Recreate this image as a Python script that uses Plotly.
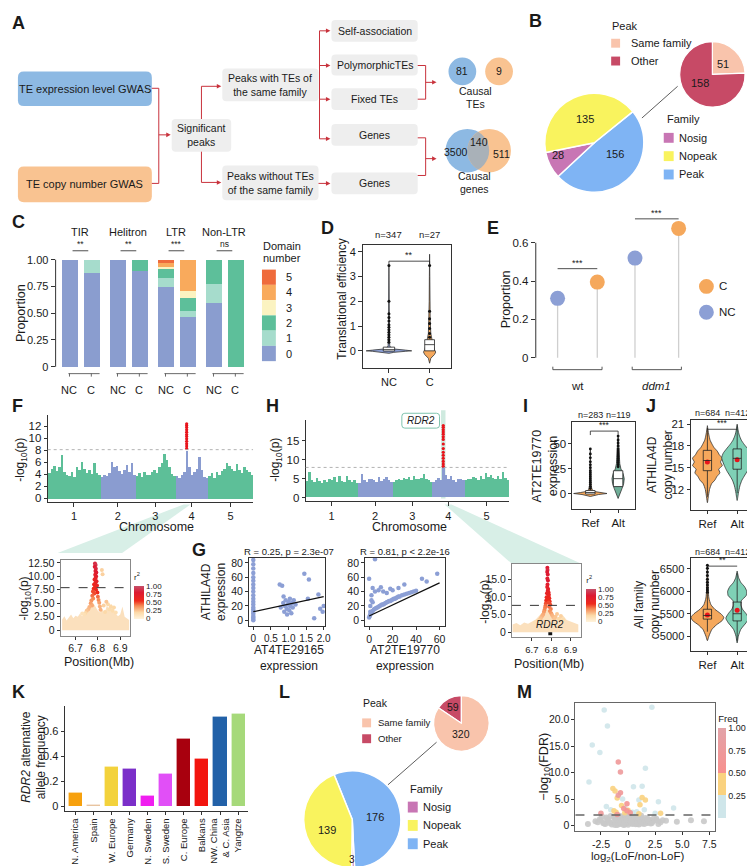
import math
import plotly.graph_objects as go

W, H = 755, 866
FONT = "Liberation Sans, Arial, Helvetica, sans-serif"
INK = "#1a1a1a"
RED = "#c8323c"

# ======================= DATA =======================
# A  (Venn counts)
te_venn = [81, 9]
gene_venn = [3500, 140, 511]

# B
b_family_labels = ["Peak", "Nosig", "Nopeak"]
b_family_values = [156, 28, 135]
b_peak_labels = ["Same family", "Other"]
b_peak_values = [51, 158]

# C
c_groups = ["TIR", "Helitron", "LTR", "Non-LTR"]
c_sig = ["**", "**", "***", "ns"]
c_bars = ["NC", "C", "NC", "C", "NC", "C", "NC", "C"]
c_levels = ["0", "1", "2", "3", "4", "5"]
c_prop = [
    [1.00, 0.88, 1.00, 0.90, 0.75, 0.47, 0.60, 0.00],
    [0.00, 0.12, 0.00, 0.00, 0.08, 0.06, 0.18, 0.00],
    [0.00, 0.00, 0.00, 0.10, 0.09, 0.12, 0.22, 1.00],
    [0.00, 0.00, 0.00, 0.00, 0.02, 0.06, 0.00, 0.00],
    [0.00, 0.00, 0.00, 0.00, 0.035, 0.29, 0.00, 0.00],
    [0.00, 0.00, 0.00, 0.00, 0.025, 0.00, 0.00, 0.00],
]

# D
d_groups = ["NC", "C"]
d_n = [347, 27]
d_nc_y = [-0.10, -0.06, -0.02, 0.00, 0.03, 0.07, 0.12, 0.20, 0.50, 1.00, 2.00, 3.45]
d_nc_w = [0.00, 0.12, 0.40, 0.56, 0.40, 0.15, 0.05, 0.02, 0.012, 0.008, 0.006, 0.00]
d_c_y = [-0.50, -0.30, -0.15, -0.05, 0.05, 0.20, 0.45, 0.70, 1.20, 2.00, 3.00, 3.90]
d_c_w = [0.00, 0.03, 0.12, 0.15, 0.12, 0.09, 0.06, 0.03, 0.015, 0.010, 0.006, 0.00]
d_box = [[-0.01, 0.05, 0.15], [0.00, 0.25, 0.45]]
d_nc_out = [0.35, 0.45, 0.55, 0.65, 0.75, 0.85, 0.95, 1.05, 1.20, 1.35, 1.50, 2.00, 3.45]
d_c_out = [0.55, 0.70, 0.90, 1.10, 1.30, 1.60, 3.45]
d_sig = "**"

# E
e_groups = ["wt", "<i>ddm1</i>"]
e_nc = [0.31, 0.52]
e_c = [0.395, 0.675]
e_sig = ["***", "***"]

# F / H  Manhattan
chrom_names = ["1", "2", "3", "4", "5"]
chrom_bins = [21, 14, 16, 13, 18]
f_heights = [
    [4.2, 5.0, 5.5, 4.6, 5.3, 7.2, 4.4, 4.0, 3.8, 4.5, 3.6, 5.2, 4.7, 6.1, 5.0, 4.2, 4.8, 4.1, 6.0, 4.3, 3.9],
    [3.6, 4.0, 3.7, 4.3, 6.1, 5.2, 5.4, 4.6, 4.1, 4.8, 5.6, 4.4, 5.9, 4.0],
    [3.8, 4.2, 3.6, 4.5, 4.0, 3.9, 4.4, 4.8, 4.3, 5.2, 6.0, 7.5, 6.4, 5.2, 4.1, 3.8],
    [3.8, 3.5, 4.0, 4.5, 8.0, 5.2, 4.0, 4.5, 5.0, 7.0, 4.8, 3.6, 3.5],
    [3.8, 4.2, 3.5, 4.4, 4.0, 4.6, 5.0, 6.0, 5.5, 5.0, 4.6, 5.8, 4.8, 4.2, 5.2, 4.8, 4.5, 4.0],
]
f_red = [8.3, 8.7, 9.1, 9.5, 9.9, 10.3, 10.6, 11.0, 11.4, 11.8, 12.1, 12.4]
f_threshold = 8.1
h_heights = [
    [4.3, 6.8, 4.5, 4.0, 5.2, 4.4, 3.9, 4.6, 4.1, 5.0, 4.5, 5.4, 4.0, 5.6, 4.4, 4.0, 5.8, 4.7, 4.2, 4.6, 3.9],
    [3.8, 6.3, 4.5, 4.0, 4.8, 5.0, 4.6, 4.2, 5.3, 4.4, 4.8, 5.5, 4.6, 4.0],
    [4.2, 4.6, 5.0, 4.5, 5.2, 4.8, 5.5, 4.6, 5.6, 5.0, 4.8, 5.2, 6.2, 5.0, 4.6, 4.2],
    [4.0, 4.5, 5.2, 4.6, 8.2, 6.0, 5.0, 5.8, 4.6, 4.2, 5.0, 4.8, 4.5],
    [4.6, 5.0, 4.8, 5.5, 5.2, 4.6, 5.8, 5.0, 6.5, 5.4, 6.0, 5.2, 4.8, 5.6, 5.0, 6.8, 5.2, 4.6],
]
h_red = [8.3, 8.9, 9.6, 10.4, 11.2, 12.0, 13.0, 14.2, 15.4, 16.1, 16.8, 17.4, 18.0, 18.6, 19.1]
h_threshold = 8.0
peak_chrom, peak_bin = 3, 4

# F local (LD zoom)
f_env_x = [6.64, 6.65, 6.66, 6.67, 6.68, 6.69, 6.70, 6.71, 6.72, 6.73, 6.74, 6.75, 6.76, 6.77, 6.78, 6.79,
           6.80, 6.81, 6.82, 6.83, 6.84, 6.85, 6.86, 6.87, 6.88, 6.89, 6.90, 6.91, 6.92, 6.93, 6.94]
f_env_y = [2.0, 2.6, 1.8, 2.4, 2.9, 2.2, 2.7, 2.5, 3.1, 2.6, 3.3, 3.8, 4.5, 5.2, 5.0, 4.2,
           3.6, 3.3, 3.9, 3.1, 4.6, 4.0, 4.9, 3.6, 3.0, 2.6, 2.9, 4.4, 2.5, 2.2, 1.9]
f_loc_x = [6.787, 6.790, 6.786, 6.791, 6.789, 6.793, 6.788, 6.792, 6.790, 6.785, 6.794, 6.789, 6.783, 6.796, 6.787,
           6.781, 6.792, 6.778, 6.798, 6.784, 6.775, 6.800, 6.779, 6.771, 6.803, 6.768, 6.806, 6.774, 6.762, 6.809,
           6.818, 6.821, 6.757, 6.750, 6.744, 6.812, 6.826, 6.832, 6.845, 6.851, 6.858, 6.866, 6.872, 6.880, 6.739,
           6.730, 6.838]
f_loc_y = [12.4, 12.1, 11.8, 11.4, 11.0, 10.7, 10.3, 10.0, 9.7, 9.4, 9.1, 8.8, 8.5, 8.3, 8.0,
           7.7, 7.5, 7.2, 7.0, 6.8, 6.4, 6.2, 5.9, 5.5, 5.6, 5.0, 5.1, 4.6, 4.3, 4.4,
           11.2, 10.4, 3.9, 3.6, 3.2, 3.8, 4.6, 3.4, 4.8, 3.9, 4.4, 3.6, 4.2, 3.3, 2.9,
           3.1, 5.3]
f_loc_r2 = [0.85, 0.9, 0.8, 0.85, 0.75, 0.8, 0.7, 0.75, 0.7, 0.65, 0.7, 0.65, 0.6, 0.65, 0.6,
            0.55, 0.6, 0.5, 0.55, 0.5, 0.45, 0.45, 0.4, 0.38, 0.4, 0.35, 0.35, 0.32, 0.3, 0.3,
            0.22, 0.22, 0.28, 0.25, 0.2, 0.3, 0.22, 0.2, 0.2, 0.18, 0.2, 0.18, 0.2, 0.16, 0.15,
            0.14, 0.25]
f_loc_threshold = 7.9

# H local
h_env_x = [6.60, 6.62, 6.64, 6.66, 6.68, 6.70, 6.72, 6.74, 6.76, 6.78, 6.80, 6.82, 6.84, 6.86, 6.88, 6.90, 6.92, 6.94]
h_env_y = [2.2, 2.6, 2.0, 2.8, 2.4, 3.0, 3.6, 4.8, 6.0, 6.5, 5.5, 4.6, 4.0, 4.8, 3.5, 3.0, 2.6, 2.2]
h_loc_x = [6.780, 6.781, 6.779, 6.782, 6.780, 6.783, 6.781, 6.779, 6.784, 6.782, 6.786, 6.778, 6.788, 6.785, 6.776,
           6.790, 6.783, 6.774, 6.792, 6.787, 6.772, 6.795, 6.770, 6.789, 6.768, 6.798, 6.765, 6.793, 6.762, 6.800,
           6.758, 6.805, 6.752, 6.810, 6.746, 6.816, 6.740, 6.822, 6.733, 6.830, 6.840, 6.850, 6.862, 6.725, 6.716]
h_loc_y = [18.2, 17.6, 17.0, 16.3, 15.2, 14.6, 13.5, 12.8, 12.2, 11.7, 11.3, 11.0, 10.6, 10.2, 9.9,
           9.6, 9.3, 9.0, 8.7, 8.4, 8.1, 7.8, 7.5, 7.2, 6.9, 6.6, 6.3, 6.0, 5.7, 5.4,
           5.0, 4.8, 4.5, 4.3, 4.0, 3.8, 3.5, 4.4, 3.2, 5.2, 3.8, 4.6, 3.6, 3.0, 2.8]
h_loc_r2 = [0.8, 0.85, 0.8, 0.8, 0.75, 0.8, 0.75, 0.7, 0.7, 0.7, 0.65, 0.65, 0.65, 0.6, 0.6,
            0.6, 0.55, 0.55, 0.55, 0.5, 0.5, 0.5, 0.45, 0.45, 0.42, 0.42, 0.4, 0.38, 0.36, 0.35,
            0.32, 0.3, 0.3, 0.28, 0.26, 0.25, 0.24, 0.25, 0.2, 0.24, 0.2, 0.22, 0.18, 0.16, 0.15]
h_loc_threshold = 7.6
rdr2_gene = [6.785, 6.805]

# G
g1_x = [0, 0, 0, 0, 0, 0, 0, 0, 0, 0, 0, 0, 0, 0, 0, 0, 0, 0, 0, 0, 0,
        0.78, 0.82, 0.85, 0.88, 0.9, 0.92, 0.95, 0.98, 1.0, 1.02, 1.05, 1.08, 1.1, 1.12, 1.15, 1.2, 0.86, 0.96, 1.04,
        1.45, 1.58, 0.75, 1.73, 1.85, 1.9, 1.97, 2.0, 1.55]
g1_y = [0, 2, 4, 6, 9, 12, 15, 18, 22, 26, 30, 35, 40, 45, 50, 55, 60, 66, 72, 78, 84,
        18, 48, 24, 12, 20, 28, 16, 22, 26, 14, 20, 10, 24, 18, 28, 22, 33, 8, 30,
        65, 57, 50, 3, 36, 16, 12, 20, 30]
g1_fit = [12.0, 10.5]
g1_stat = "R = 0.25, p = 2.3e-07"
g2_x = [0, 0.5, 1, 1.5, 2, 2.5, 3, 4, 5, 6, 7, 8, 9, 10, 11, 12, 13, 14, 15, 16, 17, 18, 19, 20, 21, 22, 23, 24,
        25, 26, 28, 30, 32, 34, 36, 38, 40,
        0, 1, 2, 3, 5, 8, 10, 12, 15, 18, 20, 25, 30, 45, 49, 58, 5, 2, 1, 3]
g2_y = [4, 6, 8, 9, 11, 12, 13, 15, 16, 17, 18, 19, 20, 21, 22, 22, 23, 24, 25, 26, 27, 27, 28, 29, 30, 30, 31, 32,
        33, 33, 35, 36, 37, 38, 39, 40, 41,
        58, 20, 35, 45, 40, 42, 46, 40, 38, 44, 42, 45, 50, 58, 54, 65, 85, 28, 12, 25]
g2_fit = [6.0, 0.77]
g2_stat = "R = 0.81, p < 2.2e-16"

# I
i_groups = ["Ref", "Alt"]
i_n = [283, 119]
i_ref_y = [-3, -1, 0, 1, 2, 4, 8, 15, 25, 35, 45]
i_ref_w = [0, 0.3, 0.6, 0.35, 0.15, 0.06, 0.03, 0.02, 0.015, 0.01, 0]
i_alt_y = [-5, 0, 5, 10, 15, 20, 25, 30, 40, 50, 58]
i_alt_w = [0, 0.08, 0.14, 0.2, 0.22, 0.18, 0.1, 0.06, 0.03, 0.02, 0]
i_box = [[-0.5, 1.0, 3.0], [7.0, 15.0, 23.0]]
i_ref_out = [5, 7, 9, 11, 13, 15, 17, 19, 21, 23, 26, 29, 32, 36, 40, 45]
i_alt_out = [27, 29, 31, 33, 35, 37, 39, 41, 43, 45, 48, 51, 54, 58]

# J
j_groups = ["Ref", "Alt"]
j_n = [684, 412]
j1_ref_y = [10.2, 11.0, 12.0, 12.8, 13.3, 13.8, 14.3, 14.8, 15.3, 15.8, 16.3, 16.8, 17.3, 17.8, 18.3, 18.8, 19.5, 20.2, 20.8]
j1_ref_w = [0, 0.03, 0.07, 0.14, 0.25, 0.32, 0.42, 0.38, 0.5, 0.44, 0.5, 0.4, 0.33, 0.22, 0.15, 0.09, 0.05, 0.02, 0]
j1_alt_y = [10.5, 11.5, 12.5, 13.3, 14.0, 14.6, 15.2, 15.8, 16.4, 17.0, 17.6, 18.2, 18.8, 19.5, 20.2, 21.0]
j1_alt_w = [0, 0.04, 0.09, 0.16, 0.26, 0.35, 0.42, 0.48, 0.52, 0.47, 0.36, 0.24, 0.14, 0.07, 0.03, 0]
j1_box = [[14.6, 16.0, 17.4], [14.8, 16.3, 17.6]]
j1_mean = [15.8, 16.1]
j1_whisk = [[11.0, 20.5], [11.5, 20.8]]
j2_ref_y = [4900, 5000, 5150, 5250, 5350, 5420, 5500, 5600, 5700, 5850, 6000, 6300, 6600]
j2_ref_w = [0, 0.05, 0.15, 0.30, 0.50, 0.55, 0.45, 0.25, 0.12, 0.05, 0.03, 0.015, 0]
j2_alt_y = [4850, 5000, 5150, 5300, 5400, 5500, 5600, 5700, 5800, 5900, 6000, 6100, 6200, 6300, 6450]
j2_alt_w = [0, 0.04, 0.12, 0.30, 0.38, 0.30, 0.18, 0.12, 0.15, 0.30, 0.32, 0.25, 0.12, 0.05, 0]
j2_box = [[5380, 5460, 5600], [5340, 5500, 5760]]
j2_mean = [5470, 5580]
j2_whisk = [[5100, 5950], [4900, 6400]]
j2_ref_out = [5980, 6030, 6080, 6140, 6200, 6270, 6350, 6430, 6510, 6580]

# K
k_regions = ["N. America", "Spain", "W. Europe", "Germany", "N. Sweden", "S. Sweden",
             "C. Europe", "Balkans", "NW. China<br>& C. Asia", "Yangtze"]
k_freq = [0.11, 0.015, 0.32, 0.30, 0.09, 0.26, 0.54, 0.38, 0.72, 0.74]
k_colors = ["#f7a10e", "#e8c4a0", "#f3d23c", "#7b2fc9", "#f01ef0", "#e14ff7",
            "#a8000e", "#f2140e", "#2261a8", "#a6d97a"]

# L
l_peak_labels = ["Other", "Same family"]
l_peak_values = [59, 320]
l_family_labels = ["Peak", "Nosig", "Nopeak"]
l_family_values = [176, 3, 139]

# M
m_gray_x = [-3.7, -3.0, -2.6, -2.3, -2.0, -1.8, -1.6, -1.4, -1.2, -1.0, -0.9, -0.8, -0.6, -0.5, -0.4, -0.3, -0.2,
            -0.1, 0.0, 0.1, 0.2, 0.3, 0.4, 0.5, 0.6, 0.8, 0.9, 1.0, 1.2, 1.4, 1.6, 1.8, 2.0, 2.3, 2.6, 3.0, 3.5,
            4.5, 5.8, 7.0, -1.5, -0.7, 0.0, 0.7, 1.5, -2.2, 2.2, -1.0, 1.0, 0.2,
            -2.8, -2.5, -2.1, -1.9, -1.7, -1.3, -1.1, -0.95, -0.75, -0.55, -0.35, -0.15, 0.05, 0.25, 0.45, 0.65,
            0.85, 1.1, 1.3, 1.5, 1.7, 1.9, 2.1, 2.4, 2.8, 3.2, -1.2, -0.4, 0.3, 1.1, -2.4, -0.8, 0.6, 1.8, 2.7]
m_gray_y = [0.3, 0.8, 1.2, 0.5, 1.5, 0.9, 1.8, 0.6, 1.3, 2.0, 0.4, 1.1, 1.7, 0.7, 1.4, 0.2, 1.9,
            1.0, 0.5, 1.6, 0.8, 1.3, 0.3, 1.8, 0.9, 1.5, 0.6, 1.2, 1.9, 0.7, 1.4, 0.5, 1.1, 0.8, 1.3, 0.6, 0.9,
            0.7, 1.0, 0.8, 0.2, 0.3, 0.15, 0.25, 0.3, 0.4, 0.5, 0.1, 0.2, 2.1,
            0.6, 1.0, 0.3, 1.2, 0.5, 1.6, 0.9, 0.4, 1.5, 1.0, 0.6, 1.2, 1.8, 0.9, 0.5, 1.3,
            0.3, 0.9, 0.4, 1.1, 0.6, 0.9, 0.4, 1.4, 0.3, 1.0, 0.1, 0.1, 0.6, 1.6, 1.7, 1.85, 1.75, 1.3, 0.9]
m_sig_x = [-2.2, 2.2, -1.9, -3.3, -2.6, 1.6, -3.6, 0.5, 1.3, -0.5, 1.0, -2.0, 2.8, 4.2, -0.3, 0.4, 1.5, -1.6, 2.5, 0.8,
           -1.4, -1.2, -1.0, 1.3, 1.6, -0.6, 0.0, -1.1, 1.1, 3.0, -0.3, 1.0, -1.3,
           -0.9, -0.7, -0.7, -0.9, -0.1, -2.5, -0.1, 0.2, -1.0, -0.4]
m_sig_y = [21.8, 22.3, 18.8, 15.2, 13.8, 10.8, 8.2, 7.3, 7.4, 5.0, 4.8, 3.6, 4.5, 3.3, 3.3, 2.5, 3.0, 3.0, 2.3, 2.6,
           7.0, 6.5, 5.2, 5.3, 4.8, 3.8, 2.9, 2.5, 3.9, 2.3, 2.4, 2.2, 2.8,
           12.0, 10.1, 6.2, 5.7, 4.1, 2.3, 2.8, 2.4, 2.1, 3.2]
m_sig_freq = [0.1, 0.12, 0.1, 0.08, 0.1, 0.1, 0.1, 0.12, 0.1, 0.15, 0.1, 0.1, 0.12, 0.1, 0.15, 0.1, 0.12, 0.2, 0.1, 0.15,
              0.4, 0.38, 0.42, 0.4, 0.45, 0.35, 0.4, 0.38, 0.4, 0.42, 0.4, 0.35, 0.4,
              0.7, 0.75, 0.65, 0.8, 0.6, 0.7, 0.62, 0.6, 0.65, 0.6]
m_threshold = 2.0

# ======================= STYLE =======================
BLUE_BOX, ORANGE_BOX, GRAY_BOX = "#8db9e3", "#f9c391", "#eeeeee"
C_LEVEL_COLORS = ["#8a9dcf", "#a6dccc", "#5dbf9a", "#fbf3c1", "#f9aa5c", "#ef6b3c"]
NC_COL, C_COL = "#8c9fd5", "#f5a85c"
GREEN, BLUE = "#5dbf98", "#8a9cd0"
TEAL_SHADE = "#d8efe7"
R2_SCALE = [[0, "#fff3dc"], [0.2, "#fcd9a8"], [0.4, "#f58a55"], [0.55, "#ee2a1c"], [0.8, "#dd1a32"], [1, "#c4506a"]]
FREQ_SCALE = [[0, "#cfe6ea"], [0.25, "#cfe6ea"], [0.25, "#fad27f"], [0.5, "#fad27f"],
              [0.5, "#f8908e"], [1, "#e2a3a8"]]
FAM_COLORS = {"Peak": "#7fb4f4", "Nosig": "#c876b4", "Nopeak": "#f9f35e"}
PEAK_COLORS = {"Same family": "#f9c4ac", "Other": "#c74a66"}

# ======================= HELPERS =======================
fig = go.Figure()
shapes, annos, layout_axes = [], [], {}
n_axes = [0]


def P(x):
    return x / W


def Q(y):
    return 1 - y / H


def tf(size):
    return dict(size=size, family=FONT, color=INK)


def make_axes(x0, y0, x1, y1, xr, yr, xkw=None, ykw=None):
    n_axes[0] += 1
    s = "" if n_axes[0] == 1 else str(n_axes[0])
    base = dict(showgrid=False, zeroline=False, fixedrange=True, showline=True,
                linecolor="#333", linewidth=1, ticks="outside", ticklen=3,
                tickcolor="#333", tickfont=tf(10.5))
    xa = dict(base)
    xa.update(domain=[x0 / W, x1 / W], range=xr, anchor="y" + s)
    ya = dict(base)
    ya.update(domain=[1 - y1 / H, 1 - y0 / H], range=yr, anchor="x" + s)
    if xkw:
        xa.update(xkw)
    if ykw:
        ya.update(ykw)
    layout_axes["xaxis" + s] = xa
    layout_axes["yaxis" + s] = ya
    return "x" + s, "y" + s


def cv(v, ref, f):
    return f(v) if ref == "paper" else v


def line(x0, y0, x1, y1, color="#333", width=1, dash=None, xref="paper", yref="paper", layer="above"):
    shapes.append(dict(type="line", xref=xref, yref=yref,
                       x0=cv(x0, xref, P), x1=cv(x1, xref, P), y0=cv(y0, yref, Q), y1=cv(y1, yref, Q),
                       line=dict(color=color, width=width, dash=dash), layer=layer))


def rect(x0, y0, x1, y1, fill, lc=None, lw=0, xref="paper", yref="paper", layer="above"):
    shapes.append(dict(type="rect", xref=xref, yref=yref,
                       x0=cv(x0, xref, P), x1=cv(x1, xref, P), y0=cv(y0, yref, Q), y1=cv(y1, yref, Q),
                       fillcolor=fill, line=dict(color=lc or fill, width=lw), layer=layer))


def circle(cx, cy, r, fill, opacity=1.0):
    shapes.append(dict(type="circle", xref="paper", yref="paper",
                       x0=P(cx - r), x1=P(cx + r), y0=Q(cy + r), y1=Q(cy - r),
                       fillcolor=fill, opacity=opacity, line=dict(width=0)))


def poly(pts, fill, layer="above", lc=None, lw=0):
    d = "M " + " L ".join(f"{P(x):.5f},{Q(y):.5f}" for x, y in pts) + " Z"
    shapes.append(dict(type="path", path=d, xref="paper", yref="paper", fillcolor=fill,
                       line=dict(color=lc or fill, width=lw), layer=layer))


def rrect(x0, y0, x1, y1, fill, r=4, lc=None, lw=0):
    def pt(x, y):
        return f"{P(x):.5f},{Q(y):.5f}"
    d = (f"M {pt(x0 + r, y0)} L {pt(x1 - r, y0)} Q {pt(x1, y0)} {pt(x1, y0 + r)} "
         f"L {pt(x1, y1 - r)} Q {pt(x1, y1)} {pt(x1 - r, y1)} "
         f"L {pt(x0 + r, y1)} Q {pt(x0, y1)} {pt(x0, y1 - r)} "
         f"L {pt(x0, y0 + r)} Q {pt(x0, y0)} {pt(x0 + r, y0)} Z")
    shapes.append(dict(type="path", path=d, xref="paper", yref="paper", fillcolor=fill,
                       line=dict(color=lc or fill, width=lw)))


def text(x, y, s, size=10.5, color=INK, xa="center", ya="middle", angle=0, xref="paper", yref="paper"):
    annos.append(dict(x=cv(x, xref, P), y=cv(y, yref, Q), xref=xref, yref=yref, text=s, showarrow=False,
                      font=dict(size=size, color=color, family=FONT), xanchor=xa, yanchor=ya,
                      textangle=angle, borderpad=0))


def arrow(x0, y0, x1, y1, color=RED):
    # horizontal rightward arrow: shaft + triangular head
    line(x0, y0, x1 - 3, y1, color, 1)
    poly([(x1, y1), (x1 - 4.5, y1 - 2.3), (x1 - 4.5, y1 + 2.3)], color)


def letter(x, y, s):
    text(x, y, f"<b>{s}</b>", 18, xa="left")


def violin(xa, ya, xc, ys, ws, fill, lw=0.8, smooth=True):
    xs = [xc + w for w in ws] + [xc - w for w in ws[::-1]]
    yy = list(ys) + list(ys[::-1])
    fig.add_trace(go.Scatter(x=xs, y=yy, fill="toself", fillcolor=fill, mode="lines",
                             line=dict(color="#333", width=lw, shape="spline" if smooth else "linear", smoothing=0.6),
                             xaxis=xa, yaxis=ya, hoverinfo="skip", showlegend=False))


def box(xa, ya, xc, q, hw, fill="white", whisk=None):
    if whisk:
        line(xc, whisk[0], xc, q[0], "#222", 0.8, xref=xa, yref=ya)
        line(xc, q[2], xc, whisk[1], "#222", 0.8, xref=xa, yref=ya)
    rect(xc - hw, q[0], xc + hw, q[2], fill, "#222", 0.8, xref=xa, yref=ya)
    line(xc - hw, q[1], xc + hw, q[1], "#222", 0.8, xref=xa, yref=ya)


def points(xa, ya, xs, ys, color="#111", size=3):
    fig.add_trace(go.Scatter(x=xs, y=ys, mode="markers", marker=dict(color=color, size=size),
                             xaxis=xa, yaxis=ya, hoverinfo="skip", showlegend=False))


def bracket(xa, ya, x0, x1, y, drop, label, lsize=9):
    if drop:
        line(x0, y - drop, x0, y, "#222", 0.8, xref=xa, yref=ya)
        line(x1, y, x1, y - drop, "#222", 0.8, xref=xa, yref=ya)
    line(x0, y, x1, y, "#222", 0.8, xref=xa, yref=ya)
    text((x0 + x1) / 2, y, label, lsize, xref=xa, yref=ya, ya="bottom")


# ======================= A =======================
letter(3, 11, "A")
rrect(10, 60, 145, 95, BLUE_BOX, r=6)
text(77.5, 77.5, "TE expression level GWAS", 11)
rrect(10, 156, 145, 192, ORANGE_BOX, r=6)
text(77.5, 174, "TE copy number GWAS", 11)
line(145, 77, 152, 77, RED)
line(145, 173, 152, 173, RED)
line(152, 77, 152, 173, RED)
arrow(152, 124, 164, 124)
rrect(165, 108, 225, 141, GRAY_BOX)
text(195, 124.5, "Significant<br>peaks", 10.5)
line(195, 108, 195, 75, RED)
arrow(195, 75, 215, 75)
line(195, 141, 195, 172, RED)
arrow(195, 172, 215, 172)
rrect(216, 57, 313, 90, GRAY_BOX)
text(264.5, 73.5, "Peaks with TEs of<br>the same family", 10.5)
rrect(216, 155, 313, 190, GRAY_BOX)
text(264.5, 172.5, "Peaks without TEs<br>of the same family", 10.5)
line(314, 19, 314, 128, RED)
for yy in [19, 54, 88, 128]:
    arrow(314, yy, 325, yy)
arrow(313, 173, 325, 173)
for (y0, y1, s) in [(8, 30, "Self-association"), (43, 64, "PolymorphicTEs"), (77, 99, "Fixed TEs"),
                    (113, 135, "Genes"), (162, 184, "Genes")]:
    rrect(326, y0, 413, y1, GRAY_BOX)
    text(369.5, (y0 + y1) / 2, s, 10.5)
line(413, 54, 421, 54, RED)
line(413, 88, 421, 88, RED)
line(421, 54, 421, 88, RED)
arrow(421, 71, 432, 71)
line(413, 127, 421, 127, RED)
line(413, 165, 421, 165, RED)
line(421, 127, 421, 165, RED)
arrow(421, 148, 432, 148)
circle(458, 60, 14, BLUE_BOX)
circle(495, 60, 14, ORANGE_BOX)
text(458, 60, str(te_venn[0]), 10.5)
text(495, 60, str(te_venn[1]), 10.5)
text(471, 80, "Causal", 10.5)
text(471, 93, "TEs", 10.5)
circle(463, 140, 22, BLUE_BOX)
circle(485, 140, 22, ORANGE_BOX)
lens = []
for k in range(13):
    a = math.radians(-60 + 10 * k)
    lens.append((463 + 22 * math.cos(a), 140 + 22 * math.sin(a)))
for k in range(13):
    a = math.radians(120 + 10 * k)
    lens.append((485 + 22 * math.cos(a), 140 + 22 * math.sin(a)))
poly(lens, "#a9b1b8")
text(452, 141, str(gene_venn[0]), 10.5)
text(475, 131, str(gene_venn[1]), 10.5)
text(497, 143, str(gene_venn[2]), 10.5)
text(470, 166, "Causal", 10.5)
text(470, 179, "genes", 10.5)

# ======================= B =======================
letter(524, 9, "B")
fig.add_trace(go.Pie(values=b_family_values, labels=b_family_labels, sort=False, direction="clockwise",
                     rotation=51, marker=dict(colors=[FAM_COLORS[l] for l in b_family_labels],
                                              line=dict(color="white", width=1.5)),
                     textinfo="none", hoverinfo="skip", showlegend=False,
                     domain=dict(x=[P(541), P(641)], y=[Q(182), Q(82)])))
fig.add_trace(go.Pie(values=b_peak_values, labels=b_peak_labels, sort=False, direction="clockwise",
                     rotation=0, marker=dict(colors=[PEAK_COLORS[l] for l in b_peak_labels],
                                             line=dict(color="white", width=1.2)),
                     textinfo="none", hoverinfo="skip", showlegend=False,
                     domain=dict(x=[P(677), P(743)], y=[Q(96), Q(30)])))
text(582, 108, str(b_family_values[2]), 11)
text(554, 144, str(b_family_values[1]), 11)
text(612, 143, str(b_family_values[0]), 11)
text(721, 52, str(b_peak_values[0]), 11)
text(698, 72, str(b_peak_values[1]), 11)
line(639, 107, 675, 75, "#333", 0.8)
text(608, 14, "Peak", 11, xa="left")
for i, lab in enumerate(b_peak_labels):
    rect(608, 27 + 18 * i, 617, 36 + 18 * i, PEAK_COLORS[lab])
    text(627, 31.5 + 18 * i, lab, 11, xa="left")
text(663, 108, "Family", 11, xa="left")
for i, lab in enumerate(["Nosig", "Nopeak", "Peak"]):
    rect(661, 122 + 18.5 * i, 671, 132 + 18.5 * i, FAM_COLORS[lab])
    text(675, 127 + 18.5 * i, lab, 11, xa="left")

# ======================= C =======================
letter(3, 212, "C")
c_pos = [0, 1, 2.2, 3.2, 4.4, 5.4, 6.6, 7.6]
xC, yC = make_axes(48, 246.8, 245, 360.2, [-0.636, 8.32], [-0.02, 1.03],
                   xkw=dict(showline=False, ticks="", showticklabels=False),
                   ykw=dict(showline=False, tickvals=[0, 0.25, 0.5, 0.75, 1.0],
                            ticktext=["0", "0.25", "0.50", "0.75", "1.00"], ticklen=4, tickfont=tf(11)))
line(0, 0, 0, 1, "#333", 1, xref=f"{xC} domain", yref=yC)
for k, lev in enumerate(c_levels):
    fig.add_trace(go.Bar(x=c_pos, y=c_prop[k], width=0.72, marker=dict(color=C_LEVEL_COLORS[k], line=dict(width=0)),
                         xaxis=xC, yaxis=yC, hoverinfo="skip", showlegend=False))
for g, name in enumerate(c_groups):
    cx = (c_pos[2 * g] + c_pos[2 * g + 1]) / 2
    text(cx, 222.5, name, 11, xref=xC)
    text(cx, 240.5, c_sig[g], 8.5, xref=xC, ya="bottom")
    line(cx - 0.36, 241, cx + 0.36, 241, "#222", 0.8, xref=xC)
    line(c_pos[2 * g] - 0.05, 365, c_pos[2 * g + 1] + 0.38, 365, "#444", 0.8, xref=xC)
    for j in (2 * g, 2 * g + 1):
        line(c_pos[j], 365, c_pos[j], 368, "#444", 0.8, xref=xC)
for j, lab in enumerate(c_bars):
    text(c_pos[j], 382, lab, 11, xref=xC)
text(13, 304, "Proportion", 12.5, angle=-90)
text(256, 236, "Domain", 11, xa="left")
text(256, 248, "number", 11, xa="left")
for k in range(5, -1, -1):
    y0 = 260 + (5 - k) * 15.4
    rect(256, y0, 270, y0 + 15.4, C_LEVEL_COLORS[k])
    text(279, y0 + 7.7, c_levels[k], 11, xa="left")

# ======================= D =======================
letter(314, 218, "D")
xD, yD = make_axes(358, 235, 447, 359, [0.366, 2.537], [-0.68, 4.28],
                   xkw=dict(mirror=True, tickvals=[1, 2], ticktext=d_groups, ticklen=4, tickfont=tf(11)),
                   ykw=dict(mirror=True, tickvals=[0, 1, 2, 3, 4], ticklen=4, tickfont=tf(11)))
violin(xD, yD, 1, d_nc_y, d_nc_w, NC_COL, smooth=False)
violin(xD, yD, 2, d_c_y, d_c_w, C_COL, smooth=False)
points(xD, yD, [1] * len(d_nc_out), d_nc_out)
points(xD, yD, [2] * len(d_c_out), d_c_out)
box(xD, yD, 1, d_box[0], 0.14)
box(xD, yD, 2, d_box[1], 0.12)
bracket(xD, yD, 1, 2, 3.62, 0.15, d_sig, 9)
for j in range(2):
    text(j + 1, 225, f"n={d_n[j]}", 9.5, xref=xD)
text(337, 290, "Translational efficiency", 12, angle=-90)

# ======================= E =======================
letter(482, 218, "E")
e_pos_nc = [-0.5, 1.45]
e_pos_c = [0.5, 2.55]
xE, yE = make_axes(532, 202, 706, 351.9, [-1.05, 3.3], [-0.015, 0.76],
                   xkw=dict(visible=False),
                   ykw=dict(showline=False, tickvals=[0, 0.2, 0.4, 0.6], ticktext=["0", "0.2", "0.4", "0.6"],
                            ticklen=4, tickfont=tf(11.5)))
line(0, 0, 0, 0.6, "#333", 1, xref=f"{xE} domain", yref=yE)
sx, sy = [], []
for p, v in list(zip(e_pos_nc, e_nc)) + list(zip(e_pos_c, e_c)):
    sx += [p, p, None]
    sy += [0, v, None]
fig.add_trace(go.Scatter(x=sx, y=sy, mode="lines", line=dict(color="#cfcfcf", width=1.3),
                         xaxis=xE, yaxis=yE, hoverinfo="skip", showlegend=False))
fig.add_trace(go.Scatter(x=e_pos_nc, y=e_nc, mode="markers", marker=dict(color=NC_COL, size=15),
                         xaxis=xE, yaxis=yE, hoverinfo="skip", showlegend=False))
fig.add_trace(go.Scatter(x=e_pos_c, y=e_c, mode="markers", marker=dict(color=C_COL, size=15),
                         xaxis=xE, yaxis=yE, hoverinfo="skip", showlegend=False))
for g in range(2):
    cx = (e_pos_nc[g] + e_pos_c[g]) / 2
    line(cx - 0.62, 361, cx + 0.62, 361, "#444", 0.9, xref=xE)
    line(cx - 0.62, 361, cx - 0.62, 358, "#444", 0.9, xref=xE)
    line(cx + 0.62, 361, cx + 0.62, 358, "#444", 0.9, xref=xE)
    text(cx, 377, e_groups[g], 11.5, xref=xE)
bracket(xE, yE, e_pos_nc[0], e_pos_c[0], 0.465, 0, e_sig[0], 9)
bracket(xE, yE, e_pos_nc[1], e_pos_c[1], 0.725, 0, e_sig[1], 9)
text(502, 290, "Proportion", 12.5, angle=-90)
circle(704, 277, 7.5, C_COL)
circle(704, 303, 7.5, NC_COL)
text(716, 277, "C", 11.5, xa="left")
text(716, 303, "NC", 11.5, xa="left")

# ======================= F (Manhattan) =======================
letter(3, 398, "F")
offsets = []
acc = 0
for n in chrom_bins:
    offsets.append(acc)
    acc += n
centers = [o + n / 2 for o, n in zip(offsets, chrom_bins)]
total_bins = acc
peak_x = offsets[peak_chrom] + peak_bin + 0.5


def manhattan(xa, ya, heights, red, thr):
    for c, hs in enumerate(heights):
        fig.add_trace(go.Bar(x=[offsets[c] + i + 0.5 for i in range(len(hs))], y=hs, width=1.0,
                             marker=dict(color=GREEN if c % 2 == 0 else BLUE, line=dict(width=0)),
                             xaxis=xa, yaxis=ya, hoverinfo="skip", showlegend=False))
    fig.add_trace(go.Scatter(x=[peak_x] * len(red), y=red, mode="markers",
                             marker=dict(color="#e8141c", size=3.2), xaxis=xa, yaxis=ya,
                             hoverinfo="skip", showlegend=False))
    line(0, thr, 1, thr, "#aaaaaa", 0.9, "dot", xref=f"{xa} domain", yref=ya)


xF, yF = make_axes(40, 406.5, 247, 494.6, [0, total_bins], [-0.6, 13.9],
                   xkw=dict(tickvals=centers, ticktext=chrom_names, ticklen=4, tickfont=tf(11)),
                   ykw=dict(tickvals=[0, 2, 4, 6, 8, 10, 12], ticklen=3, tickfont=tf(11.5)))
manhattan(xF, yF, f_heights, f_red, f_threshold)
text(150, 520, "Chromosome", 12.5)
text(13, 452, "-log<sub>10</sub>(p)", 12, angle=-90)
poly([(177, 497), (184, 497), (115, 546), (50, 546)], TEAL_SHADE, layer="below")

# F local
xFl, yFl = make_axes(53, 553.3, 123, 629.4, [6.633, 6.944], [-1.0, 13.0],
                     xkw=dict(mirror=True, linecolor="#888", tickvals=[6.7, 6.8, 6.9], ticktext=["6.7", "6.8", "6.9"],
                              tickfont=tf(10.5)),
                     ykw=dict(mirror=True, linecolor="#888", tickvals=[0, 2.5, 5, 7.5, 10, 12.5],
                              ticktext=["0", "2.50", "5.00", "7.50", "10.00", "12.50"], tickfont=tf(10.5)))
fig.add_trace(go.Scatter(x=f_env_x, y=f_env_y, mode="lines", fill="tozeroy", fillcolor="#fbe0bd",
                         line=dict(width=0, color="#fbe0bd"), xaxis=xFl, yaxis=yFl, hoverinfo="skip", showlegend=False))


def r2_colorbar(x, ymid):
    return dict(x=P(x), xanchor="left", y=Q(ymid), yanchor="middle", len=48, lenmode="pixels",
                thickness=10, thicknessmode="pixels", xpad=0, ypad=0, outlinewidth=0, ticks="",
                tickvals=[0, 0.25, 0.5, 0.75, 1], ticktext=["0", "0.25", "0.50", "0.75", "1.00"],
                tickfont=tf(8),
                title=dict(text="r<sup>2</sup>", side="top", font=tf(8)))


fig.add_trace(go.Scatter(x=f_loc_x, y=f_loc_y, mode="markers",
                         marker=dict(size=4, color=f_loc_r2, colorscale=R2_SCALE, cmin=0, cmax=1,
                                     colorbar=r2_colorbar(127, 588)),
                         xaxis=xFl, yaxis=yFl, hoverinfo="skip", showlegend=False))
line(0, f_loc_threshold, 1, f_loc_threshold, "#333", 1, "dash", xref=f"{xFl} domain", yref=yFl)
text(92, 656, "Position(Mb)", 12.5)
text(17, 592, "-log<sub>10</sub>(p)", 12, angle=-90)

# ======================= G =======================
letter(184, 543, "G")
xG1, yG1 = make_axes(243, 551, 320, 620, [-0.12, 2.05], [-8.3, 86.9],
                     xkw=dict(mirror=True, tickvals=[0, 0.5, 1.0, 1.5, 2.0], ticktext=["0", "0.5", "1.0", "1.5", "2.0"],
                              tickfont=tf(10)),
                     ykw=dict(mirror=True, tickvals=[0, 20, 40, 60, 80], tickfont=tf(10.5)))
points(xG1, yG1, g1_x, g1_y, color="#8c9fd5", size=4.5)
fig.add_trace(go.Scatter(x=[0, 2], y=[g1_fit[0], g1_fit[0] + g1_fit[1] * 2], mode="lines",
                         line=dict(color="#111", width=1.3), xaxis=xG1, yaxis=yG1, hoverinfo="skip", showlegend=False))
text(283, 545, g1_stat, 9.5)
text(283, 652, "AT4TE29165<br>expression", 12)
text(207, 585, "ATHILA4D<br>expression", 12, angle=-90)

xG2, yG2 = make_axes(360, 551, 440, 620, [-3.4, 64.2], [-8.3, 86.9],
                     xkw=dict(mirror=True, tickvals=[0, 20, 40, 60], tickfont=tf(10.5)),
                     ykw=dict(mirror=True, tickvals=[0, 20, 40, 60, 80], tickfont=tf(10.5)))
points(xG2, yG2, g2_x, g2_y, color="#8c9fd5", size=4.5)
fig.add_trace(go.Scatter(x=[0, 60], y=[g2_fit[0], g2_fit[0] + g2_fit[1] * 60], mode="lines",
                         line=dict(color="#111", width=1.3), xaxis=xG2, yaxis=yG2, hoverinfo="skip", showlegend=False))
text(400, 545, g2_stat, 9.5)
text(400, 652, "AT2TE19770<br>expression", 12)

# ======================= H =======================
letter(259, 398, "H")
xH, yH = make_axes(300, 412, 505, 494, [0, total_bins], [-1.0, 20.5],
                   xkw=dict(tickvals=centers, ticktext=chrom_names, ticklen=4, tickfont=tf(11)),
                   ykw=dict(tickvals=[0, 5, 10, 15], ticklen=3, tickfont=tf(11.5)))
shapes.append(dict(type="rect", xref=xH, yref="paper", x0=peak_x - 0.9, x1=peak_x + 0.9, y0=Q(491), y1=Q(402),
                   fillcolor="#cfeadf", line=dict(width=0), layer="below"))
manhattan(xH, yH, h_heights, h_red, h_threshold)
rrect(397, 405, 435, 420, "white", r=3, lc="#7fc4ae", lw=1)
text(416, 412.5, "<i>RDR2</i>", 10)
text(405, 520, "Chromosome", 12.5)
text(270, 452, "-log<sub>10</sub>(p)", 12, angle=-90)
poly([(440, 497), (447, 497), (578, 557), (508, 557)], TEAL_SHADE, layer="below")

xHl, yHl = make_axes(508, 557, 578, 631, [6.597, 6.956], [-1.36, 19.3],
                     xkw=dict(mirror=True, linecolor="#888", tickvals=[6.7, 6.8, 6.9], ticktext=["6.7", "6.8", "6.9"],
                              tickfont=tf(9.5)),
                     ykw=dict(mirror=True, linecolor="#888", tickvals=[0, 5, 10, 15], ticktext=["0", "5.0", "10.0", "15.0"],
                              tickfont=tf(10.5)))
fig.add_trace(go.Scatter(x=h_env_x, y=h_env_y, mode="lines", fill="tozeroy", fillcolor="#fbe0bd",
                         line=dict(width=0, color="#fbe0bd"), xaxis=xHl, yaxis=yHl, hoverinfo="skip", showlegend=False))
fig.add_trace(go.Scatter(x=h_loc_x, y=h_loc_y, mode="markers",
                         marker=dict(size=4, color=h_loc_r2, colorscale=R2_SCALE, cmin=0, cmax=1,
                                     colorbar=r2_colorbar(583, 591)),
                         xaxis=xHl, yaxis=yHl, hoverinfo="skip", showlegend=False))
line(0, h_loc_threshold, 1, h_loc_threshold, "#333", 1, "dash", xref=f"{xHl} domain", yref=yHl)
text(sum(rdr2_gene) / 2, 2.3, "<i>RDR2</i>", 10, xref=xHl, yref=yHl)
line(rdr2_gene[0], -0.4, rdr2_gene[1], -0.4, "#111", 3, xref=xHl, yref=yHl)
text(545, 658, "Position(Mb)", 12.5)
text(481, 595, "-log<sub>10</sub>(p)", 12, angle=-90)

# ======================= I =======================
letter(518, 398, "I")
xI, yI = make_axes(569, 414, 632, 502, [0.357, 2.607], [-16, 72],
                   xkw=dict(mirror=True, tickvals=[1, 2], ticktext=i_groups, tickfont=tf(11.5)),
                   ykw=dict(mirror=True, tickvals=[0, 25, 50], tickfont=tf(11.5)))
violin(xI, yI, 1, i_ref_y, i_ref_w, C_COL, smooth=False)
violin(xI, yI, 2, i_alt_y, i_alt_w, "#6fae98", smooth=False)
points(xI, yI, [1] * len(i_ref_out), i_ref_out, size=2.8)
points(xI, yI, [2] * len(i_alt_out), i_alt_out, size=2.8)
box(xI, yI, 1, i_box[0], 0.17)
box(xI, yI, 2, i_box[1], 0.17)
bracket(xI, yI, 1, 2, 63, 4, "***", 8.5)
for j in range(2):
    text(j + 1, 407, f"n={i_n[j]}", 9, xref=xI)
text(541, 458, "AT2TE19770<br>expression", 12.5, angle=-90)

# ======================= J =======================
letter(642, 398, "J")
xJ1, yJ1 = make_axes(688, 412, 750, 503, [0.433, 2.5], [9.14, 21.55],
                     xkw=dict(mirror=True, tickvals=[1, 2], ticktext=j_groups, tickfont=tf(11.5)),
                     ykw=dict(mirror=True, tickvals=[12, 15, 18, 21], tickfont=tf(11.5)))
violin(xJ1, yJ1, 1, j1_ref_y, j1_ref_w, C_COL)
violin(xJ1, yJ1, 2, j1_alt_y, j1_alt_w, "#7fd1b6")
box(xJ1, yJ1, 1, j1_box[0], 0.14, fill="rgba(0,0,0,0)", whisk=j1_whisk[0])
box(xJ1, yJ1, 2, j1_box[1], 0.14, fill="rgba(0,0,0,0)", whisk=j1_whisk[1])
points(xJ1, yJ1, [1, 2], j1_mean, color="#e8141c", size=5)
bracket(xJ1, yJ1, 1, 2, 20.3, 0, "***", 8.5)
for j in range(2):
    text(j + 1, 405, f"n={j_n[j]}", 9, xref=xJ1)
text(657, 457, "ATHILA4D<br>copy number", 12, angle=-90)

xJ2, yJ2 = make_axes(688, 551, 750, 645, [0.433, 2.5], [4669, 6743],
                     xkw=dict(mirror=True, tickvals=[1, 2], ticktext=j_groups, tickfont=tf(11.5)),
                     ykw=dict(mirror=True, tickvals=[5000, 5500, 6000, 6500], tickfont=tf(11)))
violin(xJ2, yJ2, 1, j2_ref_y, j2_ref_w, C_COL)
violin(xJ2, yJ2, 2, j2_alt_y, j2_alt_w, "#7fd1b6")
points(xJ2, yJ2, [1] * len(j2_ref_out), j2_ref_out, size=3)
box(xJ2, yJ2, 1, j2_box[0], 0.14, fill="rgba(0,0,0,0)", whisk=j2_whisk[0])
box(xJ2, yJ2, 2, j2_box[1], 0.14, fill="rgba(0,0,0,0)", whisk=j2_whisk[1])
points(xJ2, yJ2, [1, 2], j2_mean, color="#e8141c", size=5)
bracket(xJ2, yJ2, 1, 2, 6560, 0, "**", 8.5)
for j in range(2):
    text(j + 1, 545, f"n={j_n[j]}", 9, xref=xJ2)
text(645, 598, "All family<br>copy number", 12, angle=-90)

# ======================= K =======================
letter(3, 686, "K")
xK, yK = make_axes(57, 700, 242, 806, [-0.6, 9.55], [-0.0316, 0.805],
                   xkw=dict(type="category", tickangle=-90, ticklen=3, tickfont=tf(9.5)),
                   ykw=dict(tickvals=[0, 0.2, 0.4, 0.6], ticktext=["0", "0.2", "0.4", "0.6"], tickfont=tf(11)))
fig.add_trace(go.Bar(x=k_regions, y=k_freq, width=0.78, marker=dict(color=k_colors, line=dict(color="white", width=0.6)),
                     xaxis=xK, yaxis=yK, hoverinfo="skip", showlegend=False))
text(26, 752, "<i>RDR2</i> alternative<br>allele frequency", 12, angle=-90)

# ======================= L =======================
letter(272, 686, "L")
l_rot_small = -360 * l_peak_values[0] / sum(l_peak_values)
fig.add_trace(go.Pie(values=l_peak_values, labels=l_peak_labels, sort=False, direction="clockwise",
                     rotation=l_rot_small, marker=dict(colors=[PEAK_COLORS[l] for l in l_peak_labels],
                                                       line=dict(color="white", width=1.2)),
                     textinfo="none", hoverinfo="skip", showlegend=False,
                     domain=dict(x=[P(429), P(485)], y=[Q(746), Q(690)])))
fig.add_trace(go.Pie(values=l_family_values, labels=l_family_labels, sort=False, direction="clockwise",
                     rotation=-22, marker=dict(colors=[FAM_COLORS[l] for l in l_family_labels],
                                               line=dict(color="white", width=1.5)),
                     textinfo="none", hoverinfo="skip", showlegend=False,
                     domain=dict(x=[P(298), P(396)], y=[Q(864), Q(766)])))
text(449, 701, str(l_peak_values[0]), 10.5)
text(457, 729, str(l_peak_values[1]), 10.5)
text(370, 813, str(l_family_values[0]), 11)
text(322, 826, str(l_family_values[2]), 11)
text(347, 855, str(l_family_values[1]), 10)
line(383, 780, 432, 737, "#333", 0.8)
text(357, 697, "Peak", 10.5, xa="left")
for i, lab in enumerate(["Same family", "Other"]):
    rect(357, 713 + 16 * i, 366, 722 + 16 * i, PEAK_COLORS[lab])
    text(372, 717.5 + 16 * i, lab, 9.5, xa="left")
text(404, 784, "Family", 11, xa="left")
for i, lab in enumerate(["Nosig", "Nopeak", "Peak"]):
    rect(403, 797 + 18.5 * i, 413, 808 + 18.5 * i, FAM_COLORS[lab])
    text(417, 802.5 + 18.5 * i, lab, 11, xa="left")

# ======================= M =======================
letter(512, 686, "M")
xM, yM = make_axes(572, 697, 713, 827, [-4.85, 8.05], [-1.1, 23.2],
                   xkw=dict(mirror=True, linecolor="#666", tickvals=[-2.5, 0, 2.5, 5, 7.5],
                            ticktext=["-2.5", "0", "2.5", "5.0", "7.5"], tickfont=tf(10.5)),
                   ykw=dict(mirror=True, linecolor="#666", tickvals=[0, 5, 10, 15, 20],
                            ticktext=["0", "5.0", "10.0", "15.0", "20.0"], tickfont=tf(10.5)))
fig.add_trace(go.Scatter(x=m_gray_x, y=m_gray_y, mode="markers", marker=dict(color="#c9c9c9", size=6, opacity=0.9),
                         xaxis=xM, yaxis=yM, hoverinfo="skip", showlegend=False))
line(0, m_threshold, 1, m_threshold, "#666", 1.4, "dash", xref=f"{xM} domain", yref=yM)
fig.add_trace(go.Scatter(x=m_sig_x, y=m_sig_y, mode="markers",
                         marker=dict(size=5.5, color=m_sig_freq, colorscale=FREQ_SCALE, cmin=0, cmax=1, opacity=0.9,
                                     colorbar=dict(x=P(716), xanchor="left", y=Q(760), yanchor="middle", len=106,
                                                   lenmode="pixels", thickness=8, thicknessmode="pixels", xpad=0, ypad=0,
                                                   outlinewidth=0, ticks="", tickvals=[0.25, 0.5, 0.75, 1.0],
                                                   ticktext=["0.25", "0.50", "0.75", "1.00"],
                                                   tickfont=tf(9),
                                                   title=dict(text="Freq", side="top", font=tf(9.5)))),
                         xaxis=xM, yaxis=yM, hoverinfo="skip", showlegend=False))
text(635, 853, "log<sub>2</sub>(LoF/non-LoF)", 11.5)
text(541, 762, "\u2212log<sub>10</sub>(FDR)", 12.5, angle=-90)

# ======================= LAYOUT =======================
fig.update_layout(width=W, height=H, margin=dict(l=0, r=0, t=0, b=0),
                  paper_bgcolor="white", plot_bgcolor="rgba(0,0,0,0)",
                  showlegend=False, barmode="stack", bargap=0, hovermode=False,
                  font=dict(family=FONT, color=INK), shapes=shapes, annotations=annos, **layout_axes)
fig.write_html("out.html")
